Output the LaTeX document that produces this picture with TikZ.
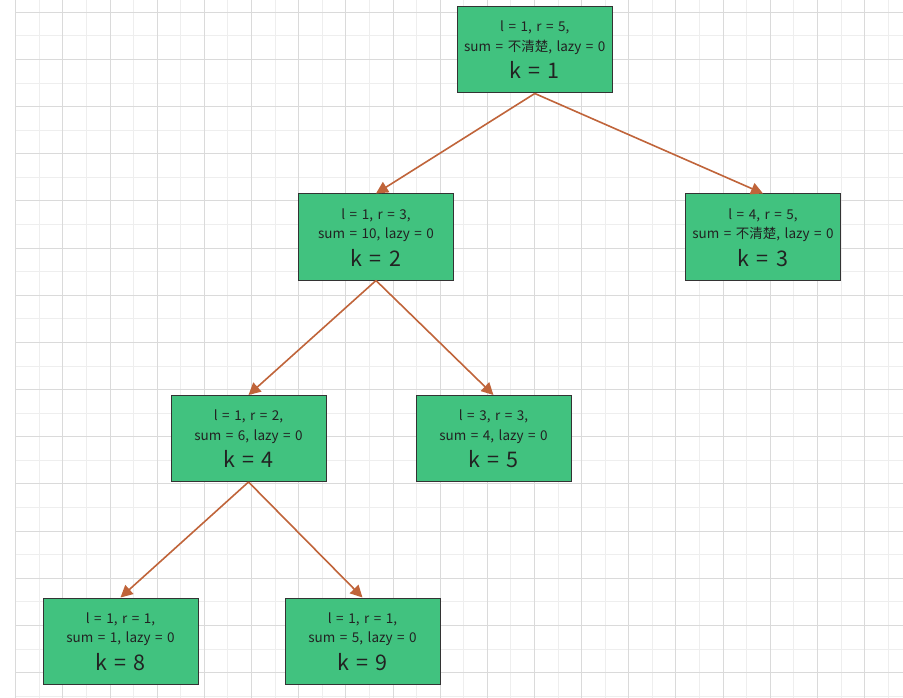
\documentclass[tikz,border=0pt]{standalone}
\usepackage{fontspec}
\setmainfont[WordSpace=1.5]{Noto Sans CJK SC}
\usetikzlibrary{arrows.meta}
\definecolor{boxgreen}{HTML}{41C27F}
\definecolor{boxborder}{HTML}{333333}
\definecolor{arrowc}{HTML}{C0643A}
\definecolor{gmajor}{HTML}{DADADA}
\definecolor{gminor}{HTML}{EEEEEE}
\definecolor{txt}{HTML}{222222}
\tikzset{
  tbox/.style={draw=boxborder, line width=1pt, fill=boxgreen, minimum width=155pt, minimum height=86pt, inner sep=0pt},
  tsmall/.style={text=txt, font=\fontsize{13.5pt}{16pt}\selectfont, inner sep=0pt, anchor=base},
  tbig/.style={text=txt, font=\fontsize{21.5pt}{26pt}\selectfont, inner sep=0pt, anchor=base},
  edge/.style={draw=arrowc, line width=1.6pt, -{Triangle[length=12pt,width=12pt]}},
  gminorline/.style={draw=gminor, line width=0.9pt},
  gmajorline/.style={draw=gmajor, line width=0.9pt}
}
\newcommand\treebox[6]{%
  \node[tbox] (#1) at (#2,#3) {};
  \node[tsmall] (#1a) at ([yshift=18pt]#1.center) {#4};
  \node[tsmall] (#1b) at ([yshift=-1.5pt]#1.center) {#5};
  \node[tbig] (#1c) at ([yshift=-29pt]#1.center) {#6};
}
\begin{document}
\begin{tikzpicture}[x=1pt,y=-1pt]
\useasboundingbox (0,0) rectangle (903,698);
\fill[white] (0,0) rectangle (903,698);
% minor grid
\foreach \i in {0,...,37} {\draw[gminorline] ({15.7+23.58*\i},0) -- ({15.7+23.58*\i},698);}
\foreach \j in {0,...,29} {\draw[gminorline] (15.7,{12.3+23.58*\j}) -- (903,{12.3+23.58*\j});}
% major grid
\foreach \i in {0,...,18} {\draw[gmajorline] ({15.7+47.16*\i},0) -- ({15.7+47.16*\i},698);}
\foreach \j in {0,...,14} {\draw[gmajorline] (15.7,{12.3+47.16*\j}) -- (903,{12.3+47.16*\j});}
% nodes
\treebox{k1}{534.8}{50}{l = 1, r = 5,}{sum = 不清楚, lazy = 0}{k = 1}
\treebox{k2}{376}{237}{l = 1, r = 3,}{sum = 10, lazy = 0}{k = 2}
\treebox{k3}{763}{237}{l = 4, r = 5,}{sum = 不清楚, lazy = 0}{k = 3}
\treebox{k4}{248.5}{438.5}{l = 1, r = 2,}{sum = 6, lazy = 0}{k = 4}
\treebox{k5}{493.5}{438.5}{l = 3, r = 3,}{sum = 4, lazy = 0}{k = 5}
\treebox{k8}{120.5}{641}{l = 1, r = 1,}{sum = 1, lazy = 0}{k = 8}
\treebox{k9}{362.5}{641}{l = 1, r = 1,}{sum = 5, lazy = 0}{k = 9}
% edges
\draw[edge] (k1.south) -- (k2.north);
\draw[edge] (k1.south) -- (k3.north);
\draw[edge] (k2.south) -- (k4.north);
\draw[edge] (k2.south) -- (k5.north);
\draw[edge] (k4.south) -- (k8.north);
\draw[edge] (k4.south) -- (k9.north);
\end{tikzpicture}
\end{document}
